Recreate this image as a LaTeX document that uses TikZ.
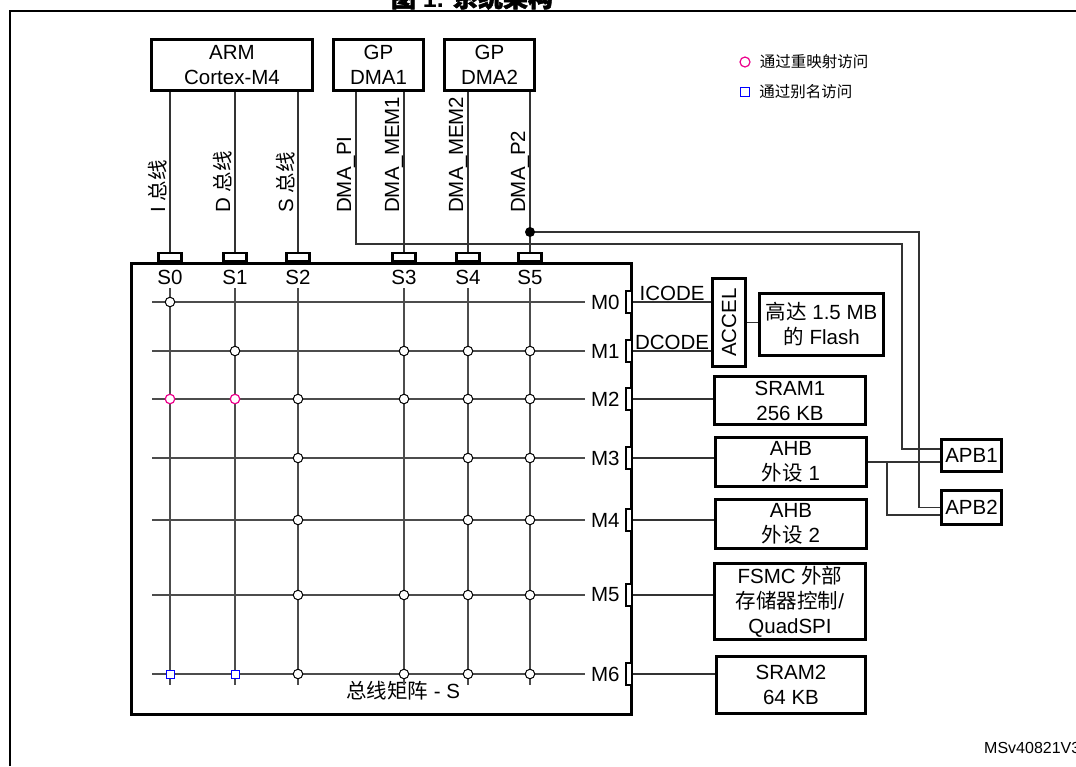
\documentclass[tikz,border=0pt]{standalone}
\usepackage{fontspec}
\setmainfont{Liberation Sans}
\newfontfamily\cjkfont{Noto Sans CJK SC}
\newfontfamily\cjkboldfont{Noto Sans CJK SC}[FakeBold=2]
\usetikzlibrary{positioning}
\newcommand{\zh}[1]{{\cjkfont #1}}

\begin{document}
\begin{tikzpicture}[x=1pt, y=-1pt,
    every node/.style={font=\fontsize{20.5}{25}\selectfont},
    blk/.style={draw, line width=3pt, align=center, inner sep=0pt, fill=white},
    tport/.style={draw, line width=2.6pt, fill=white, minimum width=23pt, minimum height=8pt, inner sep=0pt},
    rport/.style={draw, line width=2.6pt, fill=white, minimum width=6pt, minimum height=22pt, inner sep=0pt},
    wire/.style={draw=black!80, line width=1.1pt},
    xbar/.style={draw=black!70, line width=1.1pt},
    jn/.style={circle, draw=black, fill=white, line width=1pt, minimum size=9.5pt, inner sep=0pt},
    jnremap/.style={jn, draw=magenta, line width=1.2pt},
    jnalias/.style={jn, rectangle, draw=blue, minimum size=8pt},
    vlbl/.style={rotate=90, anchor=base west, inner sep=0pt}]
    \useasboundingbox (0,0) rectangle (1076,766);

    % frame and title
    \draw[line width=2pt] (10,766) -- (10,10.5) -- (1076,10.5);
    \node[anchor=base, font=\fontsize{25}{30}\selectfont\bfseries] (title) at (472,7) {{\cjkboldfont 图} 1. {\cjkboldfont 系统架构}};

    % masters
    \node[blk, minimum width=161pt, minimum height=51pt] (arm) at (232,65) {ARM\\Cortex-M4};
    \node[blk, minimum width=90pt, minimum height=51pt] (dmaone) at (378.5,65) {GP\\DMA1};
    \node[blk, minimum width=90pt, minimum height=51pt] (dmatwo) at (489.5,65) {GP\\DMA2};

    % legend
    \node[jnremap, minimum size=10pt] (lgremap) at (745,62) {};
    \node[right=9pt of lgremap, inner sep=0pt, font=\fontsize{15.5}{18}\selectfont\cjkfont] (lgremaptxt) {通过重映射访问};
    \node[jnalias, minimum size=9pt, line width=1.2pt] (lgalias) at (745,92) {};
    \node[right=9pt of lgalias, inner sep=0pt, font=\fontsize{15.5}{18}\selectfont\cjkfont] (lgaliastxt) {通过别名访问};

    % bus matrix
    \node[blk, minimum width=500pt, minimum height=451pt] (busmx) at (381.5,489) {};
    \node[anchor=base] (mxlabel) at (403,698) {\zh{总线矩阵} - S};

    \node[tport] (szero) at (170,257) {};
    \node[tport] (sone) at (235,257) {};
    \node[tport] (stwo) at (298,257) {};
    \node[tport] (sthree) at (404,257) {};
    \node[tport] (sfour) at (468,257) {};
    \node[tport] (sfive) at (530,257) {};

    \node[rport] (mzero) at (629,302) {};
    \node[rport] (mone) at (629,351) {};
    \node[rport] (mtwo) at (629,399) {};
    \node[rport] (mthree) at (629,458) {};
    \node[rport] (mfour) at (629,520) {};
    \node[rport] (mfive) at (629,595) {};
    \node[rport] (msix) at (629,674) {};

    \coordinate (sbase) at (0,284);
    \node[anchor=base] (lszero) at (szero |- sbase) {S0};
    \node[anchor=base] (lsone) at (sone |- sbase) {S1};
    \node[anchor=base] (lstwo) at (stwo |- sbase) {S2};
    \node[anchor=base] (lsthree) at (sthree |- sbase) {S3};
    \node[anchor=base] (lsfour) at (sfour |- sbase) {S4};
    \node[anchor=base] (lsfive) at (sfive |- sbase) {S5};

    \node[anchor=east, inner sep=0pt] (lmzero) at ([xshift=-5pt]mzero.west) {M0};
    \node[anchor=east, inner sep=0pt] (lmone) at ([xshift=-5pt]mone.west) {M1};
    \node[anchor=east, inner sep=0pt] (lmtwo) at ([xshift=-5pt]mtwo.west) {M2};
    \node[anchor=east, inner sep=0pt] (lmthree) at ([xshift=-5pt]mthree.west) {M3};
    \node[anchor=east, inner sep=0pt] (lmfour) at ([xshift=-5pt]mfour.west) {M4};
    \node[anchor=east, inner sep=0pt] (lmfive) at ([xshift=-5pt]mfive.west) {M5};
    \node[anchor=east, inner sep=0pt] (lmsix) at ([xshift=-5pt]msix.west) {M6};

    % crossbar lines
    \coordinate (gl) at (152,0);
    \coordinate (gr) at (585,0);
    \coordinate (gt) at (0,288);
    \coordinate (gb) at (0,685);
    \draw[xbar] (gl |- mzero) -- (gr |- mzero);
    \draw[xbar] (gl |- mone) -- (gr |- mone);
    \draw[xbar] (gl |- mtwo) -- (gr |- mtwo);
    \draw[xbar] (gl |- mthree) -- (gr |- mthree);
    \draw[xbar] (gl |- mfour) -- (gr |- mfour);
    \draw[xbar] (gl |- mfive) -- (gr |- mfive);
    \draw[xbar] (gl |- msix) -- (gr |- msix);
    \draw[xbar] (szero |- gt) -- (szero |- gb);
    \draw[xbar] (sone |- gt) -- (sone |- gb);
    \draw[xbar] (stwo |- gt) -- (stwo |- gb);
    \draw[xbar] (sthree |- gt) -- (sthree |- gb);
    \draw[xbar] (sfour |- gt) -- (sfour |- gb);
    \draw[xbar] (sfive |- gt) -- (sfive |- gb);

    % crossbar junctions
    \node[jn] (j00) at (szero |- mzero) {};

    \node[jn] (j11) at (sone |- mone) {};
    \node[jn] (j31) at (sthree |- mone) {};
    \node[jn] (j41) at (sfour |- mone) {};
    \node[jn] (j51) at (sfive |- mone) {};

    \node[jnremap] (j02) at (szero |- mtwo) {};
    \node[jnremap] (j12) at (sone |- mtwo) {};
    \node[jn] (j22) at (stwo |- mtwo) {};
    \node[jn] (j32) at (sthree |- mtwo) {};
    \node[jn] (j42) at (sfour |- mtwo) {};
    \node[jn] (j52) at (sfive |- mtwo) {};

    \node[jn] (j23) at (stwo |- mthree) {};
    \node[jn] (j43) at (sfour |- mthree) {};
    \node[jn] (j53) at (sfive |- mthree) {};

    \node[jn] (j24) at (stwo |- mfour) {};
    \node[jn] (j44) at (sfour |- mfour) {};
    \node[jn] (j54) at (sfive |- mfour) {};

    \node[jn] (j25) at (stwo |- mfive) {};
    \node[jn] (j35) at (sthree |- mfive) {};
    \node[jn] (j45) at (sfour |- mfive) {};
    \node[jn] (j55) at (sfive |- mfive) {};

    \node[jnalias] (j06) at (szero |- msix) {};
    \node[jnalias] (j16) at (sone |- msix) {};
    \node[jn] (j26) at (stwo |- msix) {};
    \node[jn] (j36) at (sthree |- msix) {};
    \node[jn] (j46) at (sfour |- msix) {};
    \node[jn] (j56) at (sfive |- msix) {};

    % master buses
    \coordinate (vbase) at (0,213);
    \draw[wire] (arm.south -| szero) -- (szero.north);
    \draw[wire] (arm.south -| sone) -- (sone.north);
    \draw[wire] (arm.south -| stwo) -- (stwo.north);
    \draw[wire] (dmaone.south -| sthree) -- (sthree.north);
    \draw[wire] (dmatwo.south -| sfour) -- (sfour.north);
    \draw[wire] (dmatwo.south -| sfive) -- (sfive.north);

    \node[vlbl] (ibus) at ([xshift=-5pt]szero |- vbase) {I \zh{总线}};
    \node[vlbl] (dbus) at ([xshift=-5pt]sone |- vbase) {D \zh{总线}};
    \node[vlbl] (sbus) at ([xshift=-5pt]stwo |- vbase) {S \zh{总线}};
    \node[vlbl] (dmamemone) at ([xshift=-5pt]sthree |- vbase) {DMA\_MEM1};
    \node[vlbl] (dmamemtwo) at ([xshift=-5pt]sfour |- vbase) {DMA\_MEM2};
    \node[vlbl] (dmaptwo) at ([xshift=-5pt]sfive |- vbase) {DMA\_P2};

    % slaves
    \node[blk, rotate=90, minimum width=88pt, minimum height=33pt] (accel) at (729,322.5) {ACCEL};
    \node[blk, minimum width=124pt, minimum height=62pt] (flash) at (821.5,324.5) {\zh{高达} 1.5 MB\\\zh{的} Flash};
    \node[blk, minimum width=151pt, minimum height=48pt] (sramone) at (790,400.5) {SRAM1\\256 KB};
    \node[blk, minimum width=151pt, minimum height=49pt] (ahbone) at (791,462) {AHB\\\zh{外设} 1};
    \node[blk, minimum width=151pt, minimum height=49pt] (ahbtwo) at (791,524) {AHB\\\zh{外设} 2};
    \node[blk, minimum width=151pt, minimum height=76pt] (fsmc) at (790,601.5) {FSMC \zh{外部}\\\zh{存储器控制}/\\QuadSPI};
    \node[blk, minimum width=149pt, minimum height=57pt] (sramtwo) at (791,685) {SRAM2\\64 KB};
    \node[blk, minimum width=60pt, minimum height=32pt] (apbone) at (971.5,455.5) {APB1};
    \node[blk, minimum width=60pt, minimum height=34pt] (apbtwo) at (971.5,507.5) {APB2};

    \draw[wire] (mzero.east) -- node[above, inner sep=1pt] {ICODE} (mzero.east -| accel.north);
    \draw[wire] (mone.east) -- node[above, inner sep=1pt] {DCODE} (mone.east -| accel.north);
    \draw[wire] (accel.south) -- (accel.south -| flash.west);
    \draw[wire] (mtwo.east) -- (mtwo.east -| sramone.west);
    \draw[wire] (mthree.east) -- (mthree.east -| ahbone.west);
    \draw[wire] (mfour.east) -- (mfour.east -| ahbtwo.west);
    \draw[wire] (mfive.east) -- (mfive.east -| fsmc.west);
    \draw[wire] (msix.east) -- (msix.east -| sramtwo.west);

    % peripheral paths to APB bridges
    \coordinate (pibend) at (356,244);
    \coordinate (piturn) at (902,244);
    \coordinate (ptwodot) at (530,232);
    \coordinate (ptwoturn) at (919,232);
    \coordinate (ahbsplit) at (887,462);
    \draw[wire] (dmaone.south -| pibend) -- (pibend) -- (piturn) |- ([yshift=6.5pt]apbone.west);
    \node[vlbl] (dmapi) at ([xshift=-5pt]pibend |- vbase) {DMA\_PI};
    \draw[wire] (ptwodot) -- (ptwoturn) |- (apbtwo.west);
    \fill (ptwodot) circle (5pt);
    \draw[wire] (ahbone.east) -- (ahbone.east -| apbone.west);
    \draw[wire] (ahbsplit) |- ([yshift=-7.5pt]apbtwo.west);

    \node[anchor=base west, inner sep=0pt, font=\fontsize{16}{19}\selectfont] (docid) at (984,753) {MSv40821V3};
  \end{tikzpicture}
\end{document}
